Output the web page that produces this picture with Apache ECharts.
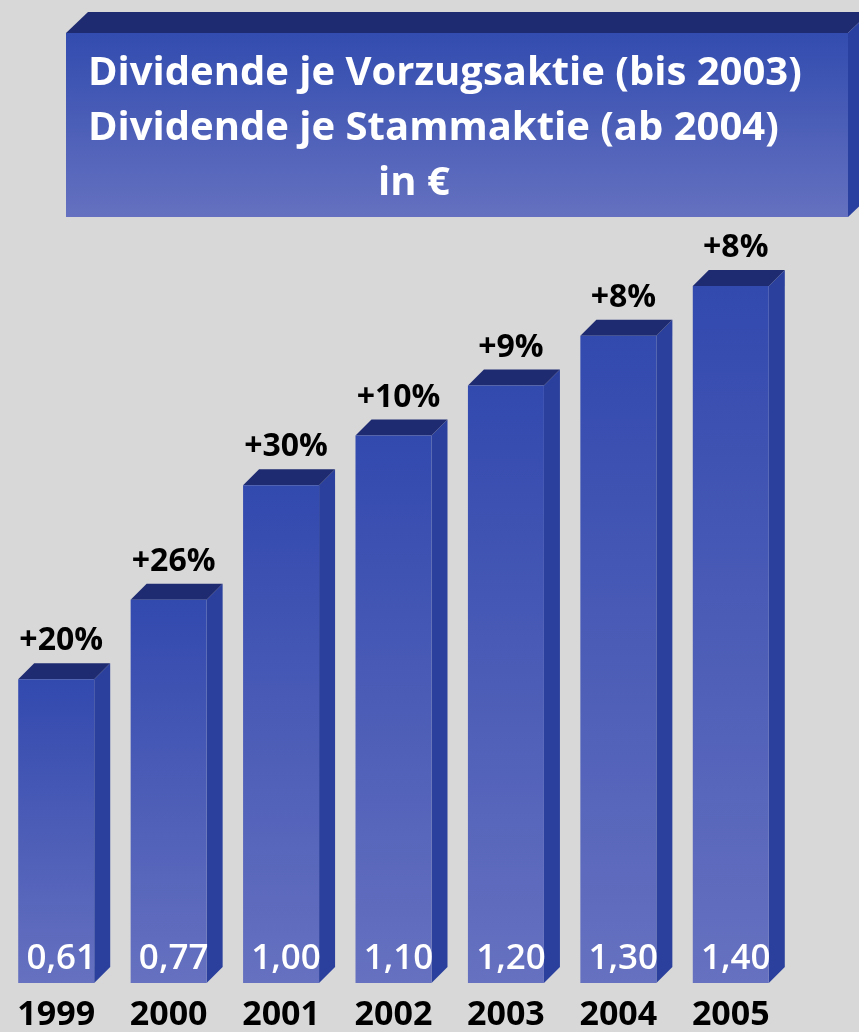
<!DOCTYPE html>
<html>
<head>
<meta charset="utf-8">
<script src="https://cdn.jsdelivr.net/npm/echarts@6/dist/echarts.min.js"></script>
<style>
html,body{margin:0;padding:0;background:#d8d8d8;}
#chart{width:859px;height:1032px;}
</style>
</head>
<body>
<div id="chart"></div>
<script>
const years = ['1999', '2000', '2001', '2002', '2003', '2004', '2005'];
const dividend = [0.61, 0.77, 1.00, 1.10, 1.20, 1.30, 1.40];
const growth = ['+20%', '+26%', '+30%', '+10%', '+9%', '+8%', '+8%'];
const titleLines = ['Dividende je Vorzugsaktie (bis 2003)', 'Dividende je Stammaktie (ab 2004)', 'in €'];

const FONT = '"Open Sans", "DejaVu Sans", sans-serif';
const fmt = v => v.toFixed(2).replace('.', ',');

const chart = echarts.init(document.getElementById('chart'));

function renderBar(params, api) {
  const i = api.value(0);
  const v = api.value(1);
  const top = api.coord([i, v]);
  const base = api.coord([i, 0]);
  const w = 76, d = 16;
  const cx = top[0];
  const x0 = cx - w / 2, x1 = cx + w / 2;
  const yt = top[1], yb = base[1];
  return {
    type: 'group',
    children: [
      {
        type: 'polygon',
        shape: { points: [[x1, yt], [x1 + d, yt - d], [x1 + d, yb - d], [x1, yb]] },
        style: { fill: '#2a409c' }
      },
      {
        type: 'polygon',
        shape: { points: [[x0, yt], [x0 + d, yt - d], [x1 + d, yt - d], [x1, yt]] },
        style: { fill: '#1f2b70' }
      },
      {
        type: 'rect',
        shape: { x: x0, y: yt, width: w, height: yb - yt },
        style: {
          fill: new echarts.graphic.LinearGradient(0, 0, 0, 1, [
            { offset: 0, color: '#3249ae' },
            { offset: 1, color: '#6671c0' }
          ])
        }
      },
      {
        type: 'text',
        style: {
          x: cx + 5, y: yb - 24,
          text: fmt(dividend[i]),
          fill: '#ffffff',
          font: '600 35px ' + FONT,
          align: 'center', verticalAlign: 'middle'
        }
      },
      {
        type: 'text',
        style: {
          x: cx + 5, y: yt - d - 6,
          text: growth[i],
          fill: '#000000',
          font: 'bold 32px ' + FONT,
          align: 'center', verticalAlign: 'bottom'
        }
      }
    ]
  };
}

const option = {
  backgroundColor: '#d8d8d8',
  animation: false,
  grid: { left: -7, width: 794, bottom: 42, top: 72 },
  xAxis: {
    type: 'category',
    data: years,
    axisLine: { show: false },
    axisTick: { show: false },
    axisLabel: {
      color: '#000',
      fontFamily: FONT,
      fontWeight: 'bold',
      fontSize: 34,
      margin: 15,
      formatter: v => v
    }
  },
  yAxis: { type: 'value', min: 0, max: 1.83, show: false },
  series: [{
    type: 'custom',
    renderItem: renderBar,
    data: dividend.map((v, i) => [i, v]),
    clip: false
  }],
  graphic: [
    {
      type: 'polygon',
      shape: { points: [[66, 33], [88, 12], [870, 12], [848, 33]] },
      style: { fill: '#1f2b70' }
    },
    {
      type: 'polygon',
      shape: { points: [[848, 33], [870, 12], [870, 196], [848, 217]] },
      style: { fill: '#2a40a0' }
    },
    {
      type: 'rect',
      shape: { x: 66, y: 33, width: 782, height: 184 },
      style: {
        fill: new echarts.graphic.LinearGradient(0, 0, 0, 1, [
          { offset: 0, color: '#324caf' },
          { offset: 1, color: '#6571c0' }
        ])
      }
    },
    {
      type: 'text', x: 88, y: 74,
      style: { text: titleLines[0], fill: '#fff', font: 'bold 40px ' + FONT, verticalAlign: 'middle' }
    },
    {
      type: 'text', x: 88, y: 129,
      style: { text: titleLines[1], fill: '#fff', font: 'bold 40px ' + FONT, verticalAlign: 'middle' }
    },
    {
      type: 'text', x: 378, y: 184,
      style: { text: titleLines[2], fill: '#fff', font: 'bold 40px ' + FONT, verticalAlign: 'middle' }
    }
  ]
};
chart.setOption(option);
</script>
</body>
</html>
